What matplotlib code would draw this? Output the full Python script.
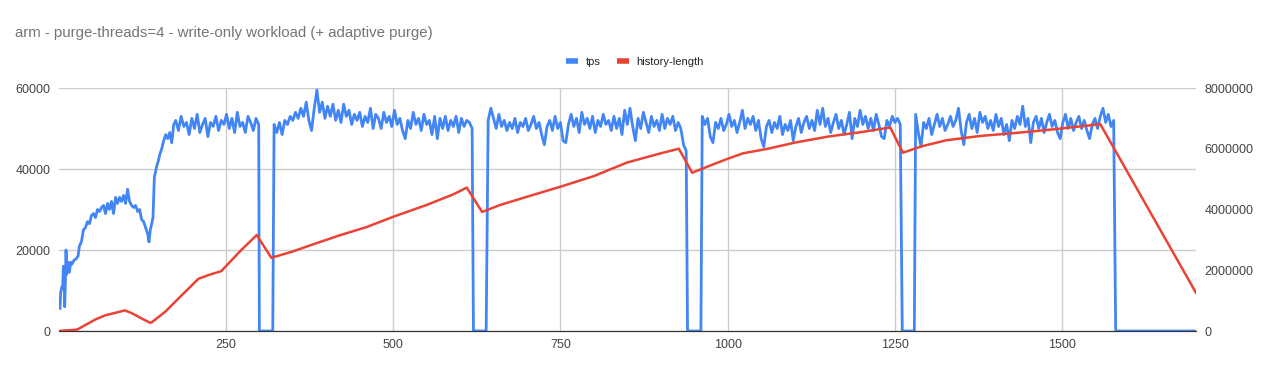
import numpy as np
import matplotlib.pyplot as plt
from matplotlib.lines import Line2D
from matplotlib.ticker import FuncFormatter

plt.rcParams['font.family'] = ['Liberation Sans', 'DejaVu Sans']

# tps, start-up ramp (second, tps)
ramp_x = [2, 3, 5, 6, 7, 8, 9, 10, 11, 12, 14, 16, 18, 20, 23, 26, 29, 31, 34, 37,
          40, 43, 46, 49, 52, 55, 58, 61, 64, 67, 70, 73, 76, 79, 82, 85, 88, 91, 94, 97,
          100, 103, 106, 109, 112, 115, 118, 121, 124, 127, 130, 133, 135, 137, 139, 141,
          143, 145, 147, 149, 151, 154, 157, 160, 163, 166, 169, 172]
ramp_tps = [5600, 9500, 11000, 10500, 16000, 15500, 6000, 12000, 20000, 14000, 17000,
            14500, 17000, 16500, 17500, 17800, 18500, 21000, 22000, 25000, 25500, 27000,
            26500, 28500, 29000, 28000, 30000, 29500, 30500, 31000, 29000, 31500, 30000,
            32000, 29000, 33000, 31500, 33000, 32000, 33500, 31500, 35000, 32000, 31000,
            30500, 31000, 29500, 30000, 27500, 27000, 25500, 24000, 22000, 25000, 26500,
            28000, 38000, 39500, 41000, 42000, 43500, 45000, 47000, 48500, 47500, 49000,
            46500, 51000]

# steady phases, one sample every 4 s
plateau_start = [175, 322, 642, 962, 1281]
plateau_step = 4
plateau_a = [52000, 49500, 53000, 50500, 51500, 48500, 52500, 50000, 53500, 49000, 51000,
             52500, 48000, 51500, 50500, 53000, 49500, 52000, 51000, 53500, 50000, 52500,
             49000, 54000, 50500, 51500, 49000, 53000, 51500, 49500, 52500, 51000]
plateau_b = [51000, 49000, 51500, 48500, 52000, 51000, 53000, 52000, 54000, 52500, 55000,
             53000, 56500, 52000, 49500, 55000, 59500, 54000, 56500, 52500, 55500, 53000,
             56000, 52000, 54500, 51500, 56000, 53000, 54500, 51000, 53500, 52000, 54000,
             50500, 53000, 51500, 55000, 50000, 53500, 52500, 50000, 54000, 51500, 53000,
             50500, 54500, 51000, 52500, 49500, 47500, 52000, 50000, 54000, 51000, 52500,
             49500, 53500, 51000, 52000, 48500, 53000, 47500, 52500, 50000, 53000, 49500,
             52000, 50500, 53000, 49000, 52500, 50500, 52000, 51500, 50000]
plateau_c = [52000, 55000, 52500, 50000, 53500, 50500, 52000, 49500, 51500, 50000, 52500,
             49000, 51500, 50500, 52500, 49500, 51000, 53000, 50000, 51500, 48500, 46000,
             50500, 52000, 49500, 53000, 50000, 51500, 47000, 46500, 51000, 53500, 50500,
             52500, 49000, 54000, 51000, 52500, 50000, 53000, 49000, 52000, 50500, 53500,
             51000, 52000, 49500, 53000, 50000, 52500, 48500, 54500, 51000, 55000, 50500,
             47000, 52500, 50000, 54000, 51500, 49000, 53000, 50500, 52000, 49500, 53500,
             50000, 52500, 51000, 53000, 49500, 51500, 50000, 46000, 44500]
plateau_d = [53000, 51000, 52500, 48000, 46500, 51500, 50000, 52500, 49500, 51000, 53500,
             50500, 52000, 49000, 51500, 54500, 50000, 52500, 51000, 53000, 49500, 52000,
             47500, 45500, 50500, 52000, 49000, 51500, 50000, 53000, 48500, 51000, 49500,
             52000, 47000, 50500, 52500, 49000, 51500, 53000, 50000, 52000, 49500, 54500,
             51000, 55000, 50500, 52500, 49000, 51500, 53500, 50000, 52000, 48500, 51000,
             54000, 47500, 52500, 50500, 54500, 51000, 53000, 50000, 52500, 49500, 53500,
             51000, 48000, 47500, 52000, 50500, 53000, 51500, 52500, 51000]
plateau_e = [53500, 49000, 45500, 51500, 50000, 52500, 48500, 51000, 53500, 50500, 52500,
             49500, 51000, 53000, 50500, 52000, 55000, 49500, 46000, 51500, 53500, 50000,
             52500, 49000, 54000, 51500, 53000, 50000, 52000, 49500, 53500, 50500, 52500,
             48500, 51000, 47000, 52000, 50000, 53000, 51000, 55500, 50500, 52500, 46500,
             51500, 53000, 50000, 52500, 49000, 51500, 53500, 50500, 52000, 49000, 47500,
             51500, 53500, 50000, 52500, 49500, 51500, 53000, 50000, 52000, 49500, 47500,
             51000, 52500, 50000, 53000, 55000, 51500, 53500, 50500, 52000]
plateaus = [plateau_a, plateau_b, plateau_c, plateau_d, plateau_e]

# stalls where tps falls to 0
gap_start = [300, 620, 940, 1261, 1580]
gap_end = [320, 639, 960, 1279, 1700]

# history-length (second, value)
hist_x = [0, 10, 20, 28, 40, 55, 70, 85, 99, 110, 125, 137, 140, 160, 185, 209, 225, 243,
          270, 296, 318, 350, 380, 420, 460, 500, 550, 590, 610, 633, 660, 700, 750, 800,
          850, 900, 927, 947, 980, 1000, 1023, 1060, 1100, 1150, 1200, 1243, 1262, 1290,
          1327, 1377, 1420, 1460, 1500, 1557, 1700]
hist_len = [0, 20000, 30000, 50000, 200000, 380000, 520000, 600000, 680000, 580000,
            400000, 270000, 300000, 650000, 1200000, 1720000, 1850000, 1970000, 2600000,
            3160000, 2410000, 2620000, 2850000, 3150000, 3420000, 3760000, 4150000, 4500000,
            4720000, 3920000, 4150000, 4420000, 4750000, 5100000, 5550000, 5850000, 6000000,
            5210000, 5500000, 5670000, 5850000, 6000000, 6200000, 6400000, 6550000, 6700000,
            5870000, 6080000, 6280000, 6420000, 6500000, 6580000, 6670000, 6810000, 1260000]

tps_x = list(ramp_x)
tps = list(ramp_tps)
for s, vals, g0, g1 in zip(plateau_start, plateaus, gap_start, gap_end):
    tps_x += list(s + plateau_step * np.arange(len(vals)))
    tps += vals
    tps_x += [g0, g1]
    tps += [0, 0]

blue = '#4285F4'
red = '#EA4335'

fig = plt.figure(figsize=(12.7, 3.71), dpi=100)
ax = fig.add_axes([0.0462, 0.1078, 0.8955, 0.655])
ax2 = ax.twinx()

ax.plot(tps_x, tps, color=blue, lw=2.0, zorder=3)
ax2.plot(hist_x, hist_len, color=red, lw=1.8, zorder=3)

ax.set_xlim(0, 1700)
ax.set_ylim(0, 60000)
ax2.set_ylim(0, 8000000)
ax.set_xticks([250, 500, 750, 1000, 1250, 1500])
ax.set_yticks([0, 20000, 40000, 60000])
ax2.set_yticks([0, 2000000, 4000000, 6000000, 8000000])
plain = FuncFormatter(lambda v, p: '%d' % v)
ax.yaxis.set_major_formatter(plain)
ax2.yaxis.set_major_formatter(plain)
ax.grid(True, color='#cccccc', lw=1)
ax.set_axisbelow(True)

for a in (ax, ax2):
    for side in ('top', 'left', 'right'):
        a.spines[side].set_visible(False)
    a.spines['bottom'].set_color('#333333')
    a.tick_params(length=0, labelsize=9, labelcolor='#444444')
ax.tick_params(axis='x', pad=6)
ax.tick_params(axis='y', pad=6)
ax2.tick_params(axis='y', pad=6)

fig.text(0.012, 0.912, 'arm - purge-threads=4 - write-only workload (+ adaptive purge)',
         fontsize=10.8, color='#757575', va='center')

handles = [Line2D([], [], color=blue, lw=4, solid_capstyle='butt'),
           Line2D([], [], color=red, lw=4, solid_capstyle='butt')]
fig.legend(handles, ['tps', 'history-length'], loc='center', bbox_to_anchor=(0.5, 0.833),
           ncol=2, frameon=False, fontsize=8, handlelength=1.1, handletextpad=0.7,
           columnspacing=1.4, labelcolor='#222222')

plt.savefig('out.png')
